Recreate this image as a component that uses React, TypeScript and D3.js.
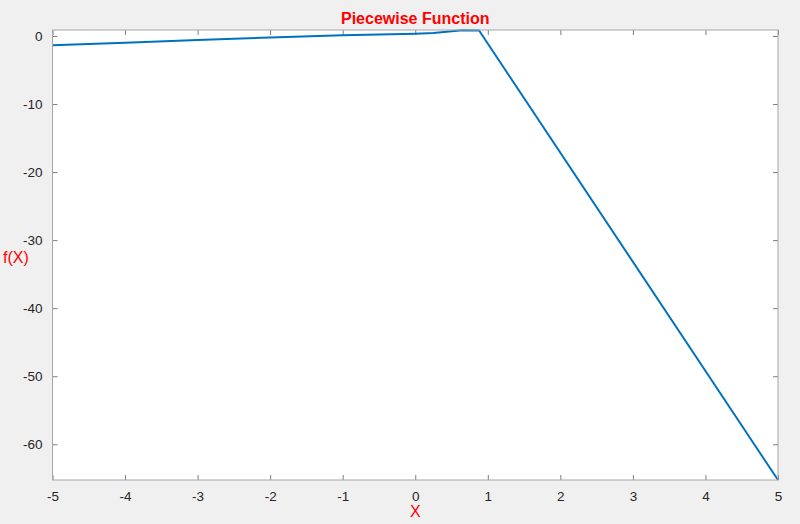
import { axisBottom, axisLeft, axisRight, axisTop, line, scaleLinear, select } from "d3";
import { useEffect, useRef } from "react";

// points
const xValues = [-5, -4, -3, -2, -1, 0, 0.25, 0.65, 0.88, 5];
const yValues = [-1.35, -1.0, -0.58, -0.22, 0.1, 0.34, 0.45, 0.86, 0.8, -65.25];
const xTicks = [-5, -4, -3, -2, -1, 0, 1, 2, 3, 4, 5];
const yTicks = [0, -10, -20, -30, -40, -50, -60];

const W = 800;
const H = 524;
const margin = { top: 30, right: 22, bottom: 44, left: 52.5 };
const FONT = "Helvetica, 'Liberation Sans', Arial, sans-serif";

export default function App() {
  const ref = useRef<SVGGElement>(null);
  const width = W - margin.left - margin.right;
  const height = H - margin.top - margin.bottom;

  const x = scaleLinear().domain([-5, 5]).range([0, width]);
  const y = scaleLinear().domain([-65.25, 0.88]).range([height, 0]);

  const pts: [number, number][] = xValues.map((v, i) => [v, yValues[i]]);
  const path = line<[number, number]>()
    .x((d) => x(d[0]))
    .y((d) => y(d[1]))(pts);

  useEffect(() => {
    if (!ref.current) return;
    const g = select(ref.current);
    g.selectAll("*").remove();

    const style = (sel: any, labels: boolean) => {
      sel.select(".domain").remove();
      sel.selectAll(".tick line").attr("stroke", "#262626").attr("stroke-width", 0.6);
      sel
        .selectAll(".tick text")
        .attr("fill", labels ? "#262626" : "none")
        .style("font-family", FONT)
        .style("font-size", "13.5px");
    };

    const bx = g
      .append("g")
      .attr("transform", `translate(0,${height})`)
      .call(axisBottom(x).tickValues(xTicks).tickSize(-5).tickPadding(9).tickFormat((d: any) => `${d}`));
    style(bx, true);
    bx.selectAll(".tick text").attr("dy", "0.9em");

    const tx = g.append("g").call(axisTop(x).tickValues(xTicks).tickSize(-5).tickFormat(() => ""));
    style(tx, false);

    const ly = g
      .append("g")
      .call(axisLeft(y).tickValues(yTicks).tickSize(-5).tickPadding(10).tickFormat((d: any) => `${d}`));
    style(ly, true);

    const ry = g
      .append("g")
      .attr("transform", `translate(${width},0)`)
      .call(axisRight(y).tickValues(yTicks).tickSize(-5).tickFormat(() => ""));
    style(ry, false);
  }, []);

  return (
    <svg
      width={W}
      height={H}
      style={{ position: "absolute", left: 0, top: 0, background: "#f0f0f0" }}
    >
      <g transform={`translate(${margin.left},${margin.top})`}>
        <rect x={0} y={0} width={width} height={height} fill="#ffffff" />
        <g ref={ref} />
        <path d={path ?? ""} fill="none" stroke="#0072BD" strokeWidth={2} strokeLinejoin="round" />
        <rect x={0} y={0} width={width} height={height} fill="none" stroke="#a6a6a6" strokeWidth={1} />
      </g>
      <text
        x={margin.left + width / 2}
        y={24}
        textAnchor="middle"
        fill="#ff0000"
        fontFamily={FONT}
        fontWeight="bold"
        fontSize={16}
      >
        Piecewise Function
      </text>
      <text
        x={margin.left + width / 2}
        y={517}
        textAnchor="middle"
        fill="#ff0000"
        fontFamily={FONT}
        fontSize={16}
      >
        X
      </text>
      <text x={3} y={263} fill="#ff0000" fontFamily={FONT} fontSize={16}>
        f(X)
      </text>
    </svg>
  );
}
